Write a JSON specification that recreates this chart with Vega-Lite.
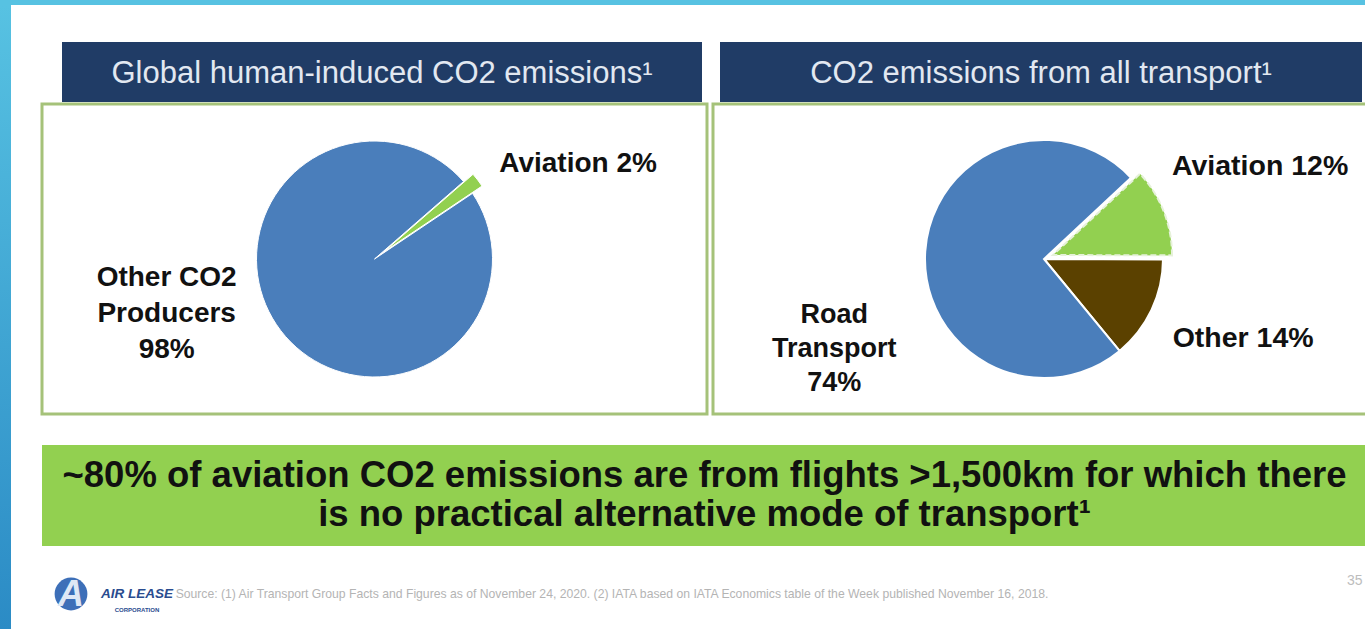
{
  "$schema": "https://vega.github.io/schema/vega-lite/v6.json",
  "background": "white",
  "padding": 0,
  "spacing": 0,
  "config": {"view": {"stroke": null}, "concat": {"spacing": 0}, "font": "Liberation Sans"},
  "datasets": {
    "global": [
      {"category": "Aviation", "share": 2, "label": "Aviation 2%"},
      {"category": "Other CO2 Producers", "share": 98, "label": "Other CO2\nProducers\n98%"}
    ],
    "transport": [
      {"category": "Aviation", "share": 12, "label": "Aviation 12%"},
      {"category": "Other", "share": 14, "label": "Other 14%"},
      {"category": "Road Transport", "share": 74, "label": "Road\nTransport\n74%"}
    ],
    "headers": [
      {"panel": "left", "title": "Global human-induced CO2 emissions¹"},
      {"panel": "right", "title": "CO2 emissions from all transport¹"}
    ],
    "headline": [
      {"text": "~80% of aviation CO2 emissions are from flights >1,500km for which there\nis no practical alternative mode of transport¹"}
    ],
    "footer": [
      {"logo": "A", "name": "AIR LEASE", "sub": "CORPORATION", "source": "Source: (1) Air Transport Group Facts and Figures as of November 24, 2020. (2) IATA based on IATA Economics table of the Week published November 16, 2018.", "page": "35"}
    ]
  },
  "vconcat": [
    {"width": 1365, "height": 5, "view": {"fill": "#57c2e2", "stroke": null}, "data": {"values": []}, "mark": "text"},
    {
      "spacing": 29,
      "hconcat": [
        {
          "width": 11, "height": 624,
          "data": {"values": [{}]},
          "mark": {"type": "rect", "color": {"gradient": "linear", "x1": 0, "y1": 0, "x2": 0, "y2": 1, "stops": [{"offset": 0, "color": "#57c2e2"}, {"offset": 1, "color": "#2b8bc5"}]}}
        },
        {
          "spacing": 0,
          "vconcat": [
            {"width": 1325, "height": 37, "data": {"values": []}, "mark": "text"},
            {
              "spacing": 2,
              "resolve": {"scale": {"theta": "independent"}},
              "hconcat": [
                {
                  "spacing": 0,
                  "vconcat": [
                    {
                      "spacing": 0,
                      "hconcat": [
                        {"width": 20, "height": 60, "data": {"values": []}, "mark": "text"},
                        {
                          "width": 640, "height": 60,
                          "view": {"fill": "#203c66", "stroke": null},
                          "data": {"name": "headers"},
                          "transform": [{"filter": "datum.panel === 'left'"}],
                          "mark": {"type": "text", "color": "#e2e8f1", "fontSize": 31, "baseline": "middle", "dy": 2},
                          "encoding": {"text": {"field": "title"}}
                        }
                      ]
                    },
                    {
                      "width": 665, "height": 310,
                      "view": {"stroke": "#a5c279", "strokeWidth": 3},
                      "data": {"name": "global"},
                      "encoding": {
                        "theta": {"field": "share", "type": "quantitative", "stack": true, "scale": {"range": [0.855, 7.138]}},
                        "order": {"field": "category", "type": "ordinal", "sort": "ascending"}
                      },
                      "layer": [
                        {
                          "mark": {"type": "arc", "outerRadius": 118, "stroke": "white", "strokeWidth": 1},
                          "encoding": {
                            "color": {"field": "category", "type": "nominal", "legend": null, "scale": {"domain": ["Aviation", "Other CO2 Producers", "Other", "Road Transport"], "range": ["#92d050", "#4a7ebb", "#5b4100", "#4a7ebb"]}},
                            "opacity": {"condition": {"test": "datum.category === 'Aviation'", "value": 0}, "value": 1}
                          }
                        },
                        {
                          "mark": {"type": "arc", "outerRadius": 118, "stroke": "white", "strokeWidth": 1, "xOffset": 9.5, "yOffset": -7.3},
                          "encoding": {
                            "color": {"field": "category", "type": "nominal", "legend": null},
                            "opacity": {"condition": {"test": "datum.category === 'Aviation'", "value": 1}, "value": 0}
                          }
                        },
                        {
                          "mark": {"type": "text", "clip": true, "radius": 157, "align": "left", "baseline": "middle", "fontSize": 28, "fontWeight": "bold", "color": "#111111"},
                          "encoding": {"text": {"condition": {"test": "datum.category === 'Aviation'", "field": "label"}, "value": ""}}
                        },
                        {
                          "mark": {"type": "text", "clip": true, "radius": 215, "thetaOffset": 0.394, "align": "center", "baseline": "middle", "lineBreak": "\n", "lineHeight": 36, "dy": -36, "fontSize": 28, "fontWeight": "bold", "color": "#111111"},
                          "encoding": {"text": {"condition": {"test": "datum.category !== 'Aviation'", "field": "label"}, "value": ""}}
                        }
                      ]
                    }
                  ]
                },
                {
                  "spacing": 0,
                  "vconcat": [
                    {
                      "spacing": 0,
                      "hconcat": [
                        {"width": 7, "height": 60, "data": {"values": []}, "mark": "text"},
                        {
                          "width": 642, "height": 60,
                          "view": {"fill": "#203c66", "stroke": null},
                          "data": {"name": "headers"},
                          "transform": [{"filter": "datum.panel === 'right'"}],
                          "mark": {"type": "text", "color": "#e2e8f1", "fontSize": 31, "baseline": "middle", "dy": 2},
                          "encoding": {"text": {"field": "title"}}
                        }
                      ]
                    },
                    {
                      "width": 662, "height": 310,
                      "view": {"stroke": "#a5c279", "strokeWidth": 3},
                      "data": {"name": "transport"},
                      "encoding": {
                        "theta": {"field": "share", "type": "quantitative", "stack": true, "scale": {"range": [0.82, 7.103]}},
                        "order": {"field": "category", "type": "ordinal", "sort": "ascending"}
                      },
                      "layer": [
                        {
                          "mark": {"type": "arc", "outerRadius": 119, "stroke": "white", "strokeWidth": 2},
                          "encoding": {
                            "color": {"field": "category", "type": "nominal", "legend": null},
                            "opacity": {"condition": {"test": "datum.category === 'Aviation'", "value": 0}, "value": 1}
                          }
                        },
                        {
                          "mark": {"type": "arc", "outerRadius": 119, "stroke": "#e6f1da", "strokeWidth": 2, "strokeDash": [6, 3], "xOffset": 9, "yOffset": -4},
                          "encoding": {
                            "color": {"field": "category", "type": "nominal", "legend": null},
                            "opacity": {"condition": {"test": "datum.category === 'Aviation'", "value": 1}, "value": 0}
                          }
                        },
                        {
                          "mark": {"type": "text", "clip": true, "radius": 158, "thetaOffset": -0.253, "align": "left", "baseline": "middle", "fontSize": 28.5, "fontWeight": "bold", "color": "#111111"},
                          "encoding": {"text": {"condition": {"test": "datum.category === 'Aviation'", "field": "label"}, "value": ""}}
                        },
                        {
                          "mark": {"type": "text", "clip": true, "radius": 151, "thetaOffset": 0.108, "align": "left", "baseline": "middle", "fontSize": 28.5, "fontWeight": "bold", "color": "#111111"},
                          "encoding": {"text": {"condition": {"test": "datum.category === 'Other'", "field": "label"}, "value": ""}}
                        },
                        {
                          "mark": {"type": "text", "clip": true, "radius": 229, "thetaOffset": -0.48, "align": "center", "baseline": "middle", "lineBreak": "\n", "lineHeight": 34, "dy": -36, "fontSize": 27, "fontWeight": "bold", "color": "#111111"},
                          "encoding": {"text": {"condition": {"test": "datum.category === 'Road Transport'", "field": "label"}, "value": ""}}
                        }
                      ]
                    }
                  ]
                }
              ]
            },
            {"width": 1325, "height": 29, "data": {"values": []}, "mark": "text"},
            {
              "width": 1325, "height": 101,
              "view": {"fill": "#92d050", "stroke": null},
              "data": {"name": "headline"},
              "mark": {"type": "text", "fontSize": 36.5, "fontWeight": "bold", "lineBreak": "\n", "lineHeight": 39, "dy": -19.5, "color": "#111111", "baseline": "middle"},
              "encoding": {"text": {"field": "text"}}
            },
            {
              "spacing": 0,
              "hconcat": [
                {
                  "width": 58, "height": 84,
                  "data": {"name": "footer"},
                  "layer": [
                    {"mark": {"type": "point", "shape": "circle", "size": 1075, "filled": true, "opacity": 1, "color": "#3d6fb8", "yOffset": 6}, "encoding": {}},
                    {"mark": {"type": "text", "clip": true, "fontSize": 36, "fontWeight": "bold", "fontStyle": "italic", "color": "#dfe8f5", "baseline": "middle", "dy": 7}, "encoding": {"text": {"field": "logo"}}}
                  ]
                },
                {
                  "width": 74, "height": 84,
                  "data": {"name": "footer"},
                  "layer": [
                    {"mark": {"type": "text", "clip": true, "fontSize": 13.5, "fontWeight": "bold", "fontStyle": "italic", "color": "#2a4c8f", "baseline": "middle", "dy": 6}, "encoding": {"text": {"field": "name"}}},
                    {"mark": {"type": "text", "clip": true, "fontSize": 6, "fontWeight": "bold", "color": "#2a4c8f", "baseline": "middle", "dy": 22}, "encoding": {"text": {"field": "sub"}}}
                  ]
                },
                {
                  "width": 876, "height": 84,
                  "data": {"name": "footer"},
                  "mark": {"type": "text", "clip": true, "fontSize": 12.2, "color": "#b4b4b4", "baseline": "middle", "dy": 6},
                  "encoding": {"text": {"field": "source"}}
                },
                {"width": 297, "height": 84, "data": {"values": []}, "mark": "text"},
                {
                  "width": 20, "height": 84,
                  "data": {"name": "footer"},
                  "mark": {"type": "text", "fontSize": 14, "color": "#bdbdbd", "align": "left", "baseline": "middle", "dx": -10, "dy": -7},
                  "encoding": {"text": {"field": "page"}}
                }
              ]
            }
          ]
        }
      ]
    }
  ]
}
